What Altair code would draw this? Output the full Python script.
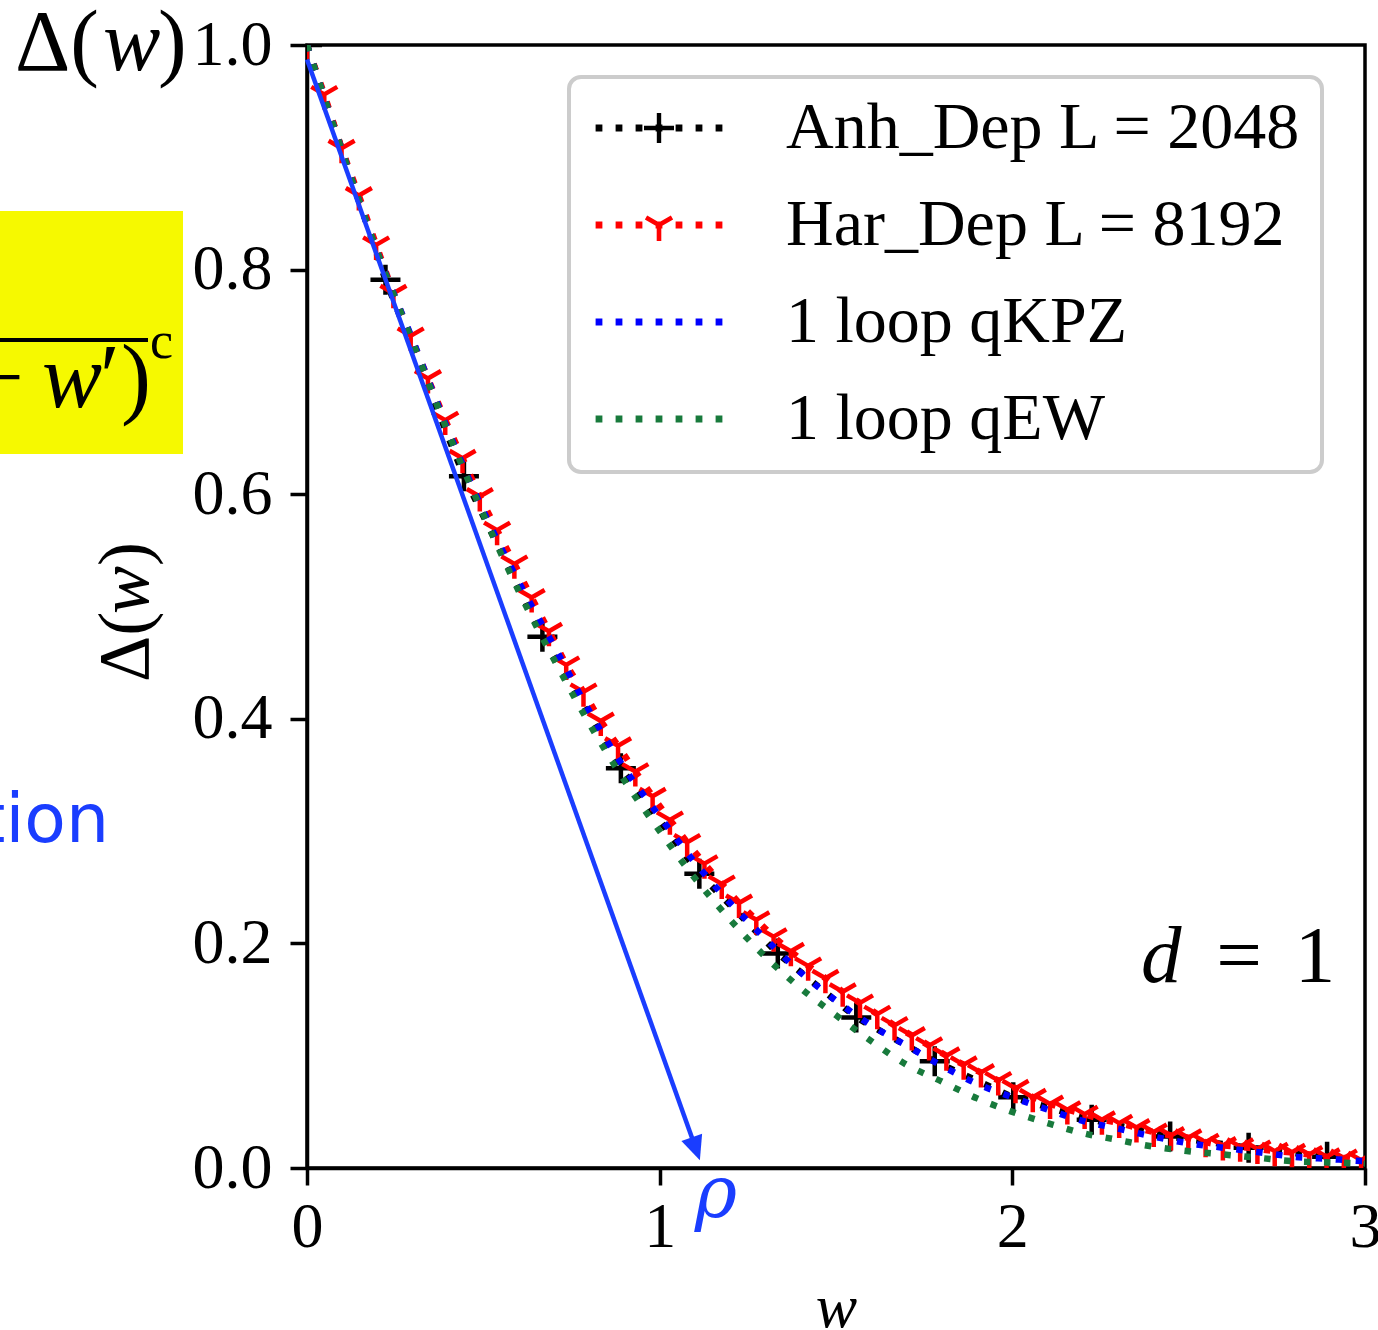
import altair as alt
import pandas as pd

# ---------------- data ----------------
SERIES = ["Anh_Dep L = 2048", "Har_Dep L = 8192", "1 loop qKPZ", "1 loop qEW"]
COLORS = ["#000000", "#ff0000", "#0000ff", "#187a3c"]

ANH_W = [0.0, 0.2225, 0.445, 0.6675, 0.89, 1.1125, 1.335, 1.5575, 1.78, 2.0025,
         2.225, 2.4475, 2.67, 2.8925]
ANH_D = [1.0, 0.791, 0.616, 0.473, 0.356, 0.262, 0.191, 0.134, 0.095, 0.063,
         0.043, 0.028, 0.018, 0.010]

HAR_W = [0.000, 0.049, 0.098, 0.147, 0.196, 0.245, 0.294, 0.343, 0.392, 0.441,
         0.490, 0.539, 0.588, 0.637, 0.686, 0.735, 0.784, 0.833, 0.882, 0.931,
         0.980, 1.029, 1.078, 1.127, 1.176, 1.225, 1.274, 1.323, 1.372, 1.421,
         1.470, 1.519, 1.568, 1.617, 1.666, 1.715, 1.764, 1.813, 1.862, 1.911,
         1.960, 2.009, 2.058, 2.107, 2.156, 2.205, 2.254, 2.303, 2.352, 2.401,
         2.450, 2.499, 2.548, 2.597, 2.646, 2.695, 2.744, 2.793, 2.842, 2.891,
         2.940, 2.989]
HAR_D = [1.000, 0.956, 0.908, 0.866, 0.822, 0.779, 0.741, 0.703, 0.666, 0.632,
         0.598, 0.568, 0.538, 0.508, 0.478, 0.448, 0.424, 0.398, 0.376, 0.353,
         0.331, 0.310, 0.290, 0.271, 0.253, 0.236, 0.221, 0.206, 0.193, 0.180,
         0.169, 0.157, 0.147, 0.137, 0.127, 0.118, 0.109, 0.100, 0.092, 0.085,
         0.078, 0.071, 0.063, 0.057, 0.052, 0.048, 0.043, 0.040, 0.036, 0.032,
         0.029, 0.027, 0.023, 0.020, 0.019, 0.017, 0.015, 0.014, 0.012, 0.010,
         0.009, 0.007]

LOOP_W = [0.0, 0.1, 0.2, 0.3, 0.4, 0.5, 0.6, 0.7, 0.8, 0.9, 1.0, 1.1, 1.2, 1.3,
          1.4, 1.5, 1.6, 1.7, 1.8, 1.9, 2.0, 2.1, 2.2, 2.3, 2.4, 2.5, 2.6, 2.7,
          2.8, 2.9, 3.0]
QKPZ_D = [1.000, 0.905, 0.815, 0.737, 0.657, 0.585, 0.522, 0.465, 0.407, 0.356,
          0.313, 0.272, 0.236, 0.204, 0.174, 0.149, 0.127, 0.109, 0.091, 0.075,
          0.063, 0.052, 0.042, 0.035, 0.028, 0.022, 0.018, 0.014, 0.010, 0.008,
          0.006]
QEW_D = [1.000, 0.905, 0.815, 0.735, 0.655, 0.582, 0.514, 0.453, 0.396, 0.345,
         0.300, 0.258, 0.221, 0.188, 0.160, 0.136, 0.113, 0.092, 0.077, 0.062,
         0.050, 0.040, 0.031, 0.025, 0.019, 0.015, 0.012, 0.009, 0.006, 0.005,
         0.004]

X_TICKS = [0, 1, 2, 3]
Y_TICKS = [0.0, 0.2, 0.4, 0.6, 0.8, 1.0]

# annotation arrow (data coordinates)
ARROW_FROM = (0.0, 0.987)
ARROW_SHAFT_END = (1.103, 0.017)
ARROW_TIP = (1.114, 0.007)

# ---------------- styling ----------------
FONT = "Liberation Serif"
ARROW_BLUE = "#1a3dff"
YELLOW = "#f6f900"
OX, OY = 307, 45          # plot origin inside the page
PW, PH = 1058, 1123       # plot area

# legend symbol paths (filled polygons: dotted line + marker)
S = 65.0


def _f(v):
    return f"{v:.4f}"


def poly(pts):
    return "M" + "L".join(f"{_f(x)},{_f(y)}" for x, y in pts) + "Z"


def dots():
    h = 3.4 / S
    out = ""
    for c in (-60, -40, -20, 0, 20, 40, 60):
        cx = c / S
        out += poly([(cx - h, h), (cx + h, h), (cx + h, -h), (cx - h, -h)])
    return out


def bar(ux, uy, L, t, back):
    nx, ny = -uy, ux
    a = (-back * ux, -back * uy)
    b = (L * ux, L * uy)
    pts = [(a[0] + nx * t, a[1] + ny * t), (b[0] + nx * t, b[1] + ny * t),
           (b[0] - nx * t, b[1] - ny * t), (a[0] - nx * t, a[1] - ny * t)]
    return poly([(x / S, y / S) for x, y in pts])


LEG_PLUS = dots() + bar(1, 0, 15, 2.2, 15) + bar(0, 1, 15, 2.2, 15)
LEG_TRI = (dots() + bar(0, 1, 16, 2.3, 1) + bar(-0.866, -0.5, 15, 2.3, 1)
           + bar(0.866, -0.5, 15, 2.3, 1))
LEG_SHAPES = [LEG_PLUS, LEG_TRI, dots(), dots()]

PLUS = "M-1,0L1,0M0,-1L0,1"
TRI_DOWN = "M0,0L0,1M0,0L-0.866,-0.5M0,0L0.866,-0.5"
HEAD = "M0,0L-0.5,-1.1L0.5,-1.1Z"

# ---------------- frames ----------------
anh = pd.DataFrame({"w": ANH_W, "d": ANH_D})
har = pd.DataFrame({"w": HAR_W, "d": HAR_D})
kpz = pd.DataFrame({"w": LOOP_W, "d": QKPZ_D})
qew = pd.DataFrame({"w": LOOP_W, "d": QEW_D})
arrow = pd.DataFrame({"w": [ARROW_FROM[0]], "d": [ARROW_FROM[1]],
                      "w2": [ARROW_SHAFT_END[0]], "d2": [ARROW_SHAFT_END[1]]})
tip = pd.DataFrame({"w": [ARROW_TIP[0]], "d": [ARROW_TIP[1]]})
leg = pd.DataFrame({"series": SERIES,
                    "w": [ANH_W[0], HAR_W[0], LOOP_W[0], LOOP_W[0]],
                    "d": [ANH_D[0], HAR_D[0], QKPZ_D[0], QEW_D[0]]})
one = pd.DataFrame({"a": [0]})

xscale = alt.Scale(domain=[0, 3], nice=False, zero=False)
yscale = alt.Scale(domain=[0, 1], nice=False, zero=False)

xaxis = alt.Axis(values=X_TICKS, format="d", labelFlush=False, labelOverlap=False,
                 labelPadding=10, title="w", titleFont=FONT, titleFontSize=62,
                 titleFontStyle="italic", titleFontWeight="normal", titleColor="black",
                 titleBaseline="alphabetic", titleAlign="center", titleX=PW / 2, titleY=158)
yaxis = alt.Axis(values=Y_TICKS, format=".1f", labelFlush=False, labelOverlap=False,
                 labelPadding=18, title=None)

X = alt.X("w:Q", scale=xscale, axis=xaxis)
Y = alt.Y("d:Q", scale=yscale, axis=yaxis)

DASH = [6.5, 13.5]


def dotted(df, color, interp="linear"):
    return alt.Chart(df).mark_line(color=color, strokeWidth=6.5, strokeDash=DASH,
                                   strokeCap="butt", clip=True,
                                   interpolate=interp).encode(x=X, y=Y)


def markers(df, shape, color, sw):
    return alt.Chart(df).mark_point(shape=shape, filled=False, size=900, color=color,
                                    strokeWidth=sw, opacity=1, clip=True).encode(x=X, y=Y)


def txt(s, x, y, size, style="normal", color="black", align="left",
        font=FONT, angle=None):
    kw = dict(text=s, font=font, fontSize=size, fontStyle=style, color=color,
              align=align, baseline="alphabetic")
    if angle:
        kw["angle"] = angle
    return alt.Chart(one).mark_text(**kw).encode(x=alt.value(x - OX), y=alt.value(y - OY))


layers = [
    dotted(anh, COLORS[0]),
    markers(anh, PLUS, COLORS[0], 4.5),
    dotted(har, COLORS[1]),
    markers(har, TRI_DOWN, COLORS[1], 4.5),
    dotted(kpz, COLORS[2], "monotone"),
    dotted(qew, COLORS[3], "monotone"),
    # arrow annotation
    alt.Chart(arrow).mark_rule(color=ARROW_BLUE, strokeWidth=4.5, strokeCap="butt").encode(
        x=X, y=Y, x2="w2:Q", y2="d2:Q"),
    alt.Chart(tip).mark_point(shape=HEAD, filled=True, size=1936, angle=340.4,
                              color=ARROW_BLUE, opacity=1, strokeWidth=0).encode(x=X, y=Y),
    txt("ρ", 716, 1217, 72, style="italic", color=ARROW_BLUE, align="center",
        font="DejaVu Serif"),
    # d = 1
    txt("d", 1141, 982, 81, style="italic"),
    txt("=", 1239, 982, 81, align="center"),
    txt("1", 1315, 982, 81, align="center"),
    # top-left label
    txt("Δ(", 15, 70, 86),
    txt("w", 103, 70, 86, style="italic"),
    txt(")", 158, 70, 86),
    # rotated y label
    txt("Δ(", 148, 682, 72, angle=270),
    txt("w", 148, 614, 72, style="italic", angle=270),
    txt(")", 148, 566, 72, angle=270),
    # yellow box with partial formula
    alt.Chart(one).mark_rect(color=YELLOW).encode(
        x=alt.value(0 - OX), x2=alt.value(183 - OX),
        y=alt.value(211 - OY), y2=alt.value(454 - OY)),
    alt.Chart(one).mark_rule(color="black", strokeWidth=4).encode(
        x=alt.value(0 - OX), x2=alt.value(148 - OX), y=alt.value(340 - OY)),
    txt("−", 24, 407, 90, align="right"),
    txt("w", 42, 407, 90, style="italic"),
    txt("′", 100, 407, 90),
    txt(")", 121, 407, 90),
    txt("c", 150, 358, 52),
    # blue side text
    txt("tion", 109, 842, 68, color=ARROW_BLUE, align="right", font="DejaVu Sans"),
    # legend carrier (no marks drawn)
    alt.Chart(leg).mark_point(filled=True, opacity=1).encode(
        x=X, y=Y,
        color=alt.Color("series:N", scale=alt.Scale(domain=SERIES, range=COLORS),
                        legend=alt.Legend(title=None)),
        shape=alt.Shape("series:N", scale=alt.Scale(domain=SERIES, range=LEG_SHAPES),
                        legend=alt.Legend(title=None)),
    ).transform_filter("false"),
]

chart = alt.layer(*layers).properties(
    width=PW, height=PH,
    autosize=alt.AutoSizeParams(type="none"),
    padding={"left": OX, "top": OY, "right": 1378 - OX - PW, "bottom": 1330 - OY - PH},
    background="white",
).configure_view(
    stroke="black", strokeWidth=3.5
).configure_axis(
    domainColor="black", domainWidth=3.5, tickColor="black", tickWidth=3.5,
    tickSize=17, labelFont=FONT, labelFontSize=64, labelColor="black", grid=False,
).configure_legend(
    orient="none", legendX=262, legendY=32, padding=20,
    symbolSize=16900, symbolStrokeWidth=0, symbolOpacity=1, symbolOffset=5,
    labelOffset=62, clipHeight=62, rowPadding=31,
    labelFont=FONT, labelFontSize=66, labelColor="black", labelLimit=2000,
    strokeColor="#cccccc", strokeWidth=4, fillColor="white", cornerRadius=12,
)

chart.save("out.html", embed_options={"renderer": "svg", "actions": False})
